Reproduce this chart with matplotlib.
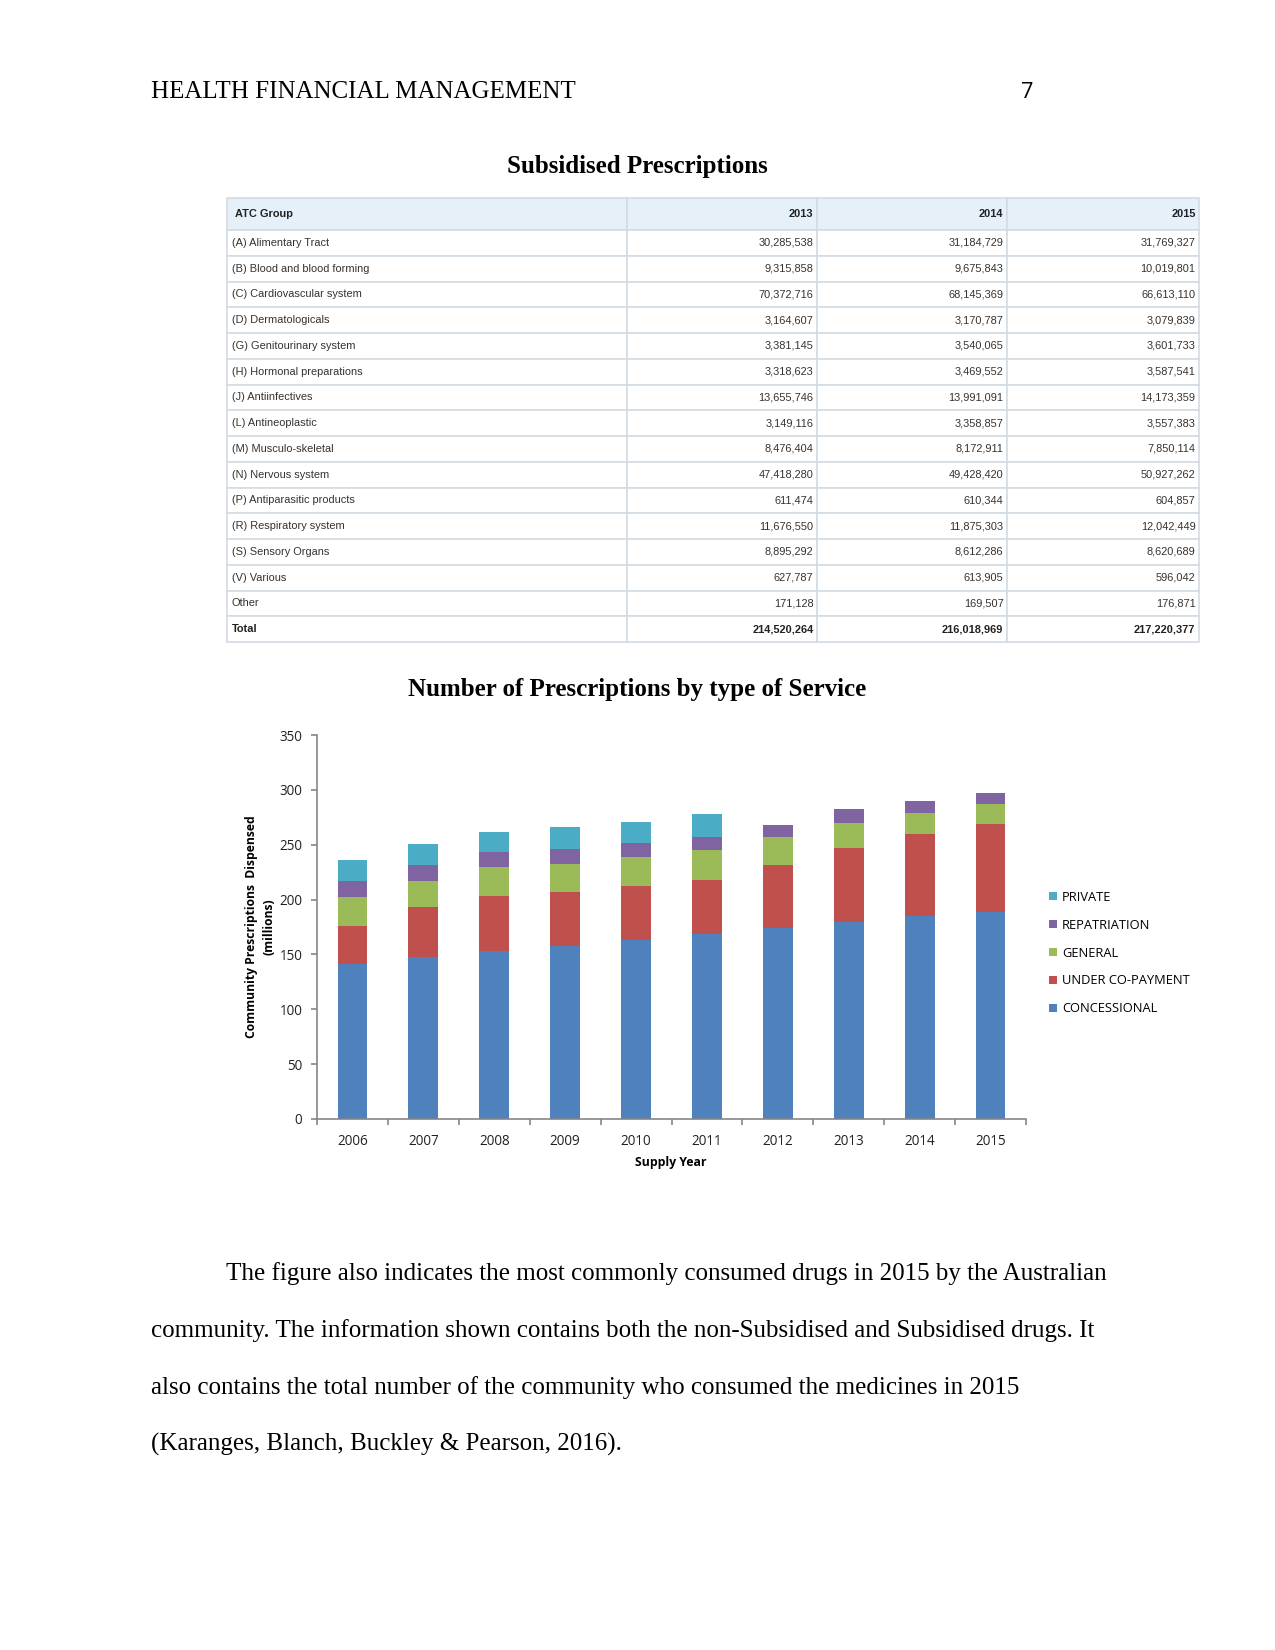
import matplotlib
matplotlib.use("Agg")
import matplotlib.pyplot as plt
import numpy as np
from matplotlib.patches import Patch

# page is letter size at 150 dpi -> 1275 x 1650
W, H = 1275, 1650

# table data
atc_groups = ["(A) Alimentary Tract", "(B) Blood and blood forming", "(C) Cardiovascular system",
              "(D) Dermatologicals", "(G) Genitourinary system", "(H) Hormonal preparations",
              "(J) Antiinfectives", "(L) Antineoplastic", "(M) Musculo-skeletal",
              "(N) Nervous system", "(P) Antiparasitic products", "(R) Respiratory system",
              "(S) Sensory Organs", "(V) Various", "Other", "Total"]
table_years = ["2013", "2014", "2015"]
rx_2013 = [30285538, 9315858, 70372716, 3164607, 3381145, 3318623, 13655746, 3149116,
           8476404, 47418280, 611474, 11676550, 8895292, 627787, 171128, 214520264]
rx_2014 = [31184729, 9675843, 68145369, 3170787, 3540065, 3469552, 13991091, 3358857,
           8172911, 49428420, 610344, 11875303, 8612286, 613905, 169507, 216018969]
rx_2015 = [31769327, 10019801, 66613110, 3079839, 3601733, 3587541, 14173359, 3557383,
           7850114, 50927262, 604857, 12042449, 8620689, 596042, 176871, 217220377]

# chart data (millions)
supply_years = ["2006", "2007", "2008", "2009", "2010", "2011", "2012", "2013", "2014", "2015"]
concessional = [141.3, 147.7, 152.8, 158.0, 163.5, 168.9, 174.1, 179.3, 185.4, 189.0]
under_copay = [34.6, 45.6, 50.8, 49.2, 48.9, 49.3, 57.4, 67.4, 74.4, 79.9]
general = [26.5, 24.0, 26.1, 25.2, 26.1, 27.3, 25.3, 23.1, 19.1, 18.2]
repatriation = [14.9, 14.2, 13.4, 14.0, 13.1, 11.9, 10.9, 12.5, 11.3, 10.1]
private = [19.1, 19.2, 18.5, 19.5, 19.1, 20.6, 0, 0, 0, 0]

series_names = ["CONCESSIONAL", "UNDER CO-PAYMENT", "GENERAL", "REPATRIATION", "PRIVATE"]
series_colors = ["#4F81BD", "#C0504D", "#9BBB59", "#8064A2", "#4BACC6"]

body_lines = [
    "The figure also indicates the most commonly consumed drugs in 2015 by the Australian",
    "community. The information shown contains both the non-Subsidised and Subsidised drugs. It",
    "also contains the total number of the community who consumed the medicines in 2015",
    "(Karanges, Blanch, Buckley & Pearson, 2016).",
]


def fx(x):
    return x / W


def fy(y):
    return 1 - y / H


fig = plt.figure(figsize=(8.5, 11), dpi=150)
serif = "Liberation Serif"

# header
fig.text(fx(151), fy(98), "HEALTH FINANCIAL MANAGEMENT", family=serif, fontsize=12, va="baseline")
fig.text(fx(1034), fy(98), "7", family="Open Sans", fontsize=10.5, va="baseline", ha="right")

fig.text(fx(637), fy(173), "Subsidised Prescriptions", family=serif, fontsize=12,
         weight="bold", ha="center", va="baseline")

# ---- table ----
tx0, tx1, ty0, ty1 = 227, 1199, 198, 642
tax = fig.add_axes([fx(tx0), fy(ty1), fx(tx1 - tx0), (ty1 - ty0) / H])
tax.axis("off")

cell_text = []
for i, g in enumerate(atc_groups):
    cell_text.append([g, f"{rx_2013[i]:,}", f"{rx_2014[i]:,}", f"{rx_2015[i]:,}"])

col_px = [400, 190, 190, 192]
col_w = [c / sum(col_px) for c in col_px]
tbl = tax.table(cellText=cell_text, colLabels=["ATC Group"] + table_years,
                colWidths=col_w, bbox=[0, 0, 1, 1])
tbl.auto_set_font_size(False)
n_rows = len(atc_groups)
for (r, c), cell in tbl.get_celld().items():
    cell.set_edgecolor("#D3DBE4")
    cell.set_linewidth(0.8)
    cell.set_height(32 if r == 0 else 25.75)
    if c == 0:
        cell.PAD = (8 if r == 0 else 5) / col_px[c]
    else:
        cell.PAD = 3.5 / col_px[c]
    txt = cell.get_text()
    txt.set_fontfamily("Liberation Sans")
    txt.set_fontsize(5.3)
    txt.set_color("#333333")
    cell._loc = "left" if c == 0 else "right"
    txt.set_ha("left" if c == 0 else "right")
    if r == 0:
        cell.set_facecolor("#E6F0F9")
        txt.set_weight("bold")
        txt.set_color("#222222")
    if r == n_rows:
        txt.set_weight("bold")
        txt.set_color("#222222")

# ---- chart ----
fig.text(fx(637), fy(696), "Number of Prescriptions by type of Service", family=serif,
         fontsize=12, weight="bold", ha="center", va="baseline")

ax0, ax1, ay0, ay1 = 317, 1026, 735, 1119
ax = fig.add_axes([fx(ax0), fy(ay1), fx(ax1 - ax0), (ay1 - ay0) / H])
x = np.arange(len(supply_years))
bottom = np.zeros(len(supply_years))
handles = []
for name, vals, col in zip(series_names, [concessional, under_copay, general, repatriation, private],
                           series_colors):
    ax.bar(x, vals, width=0.42, bottom=bottom, color=col, linewidth=0)
    bottom += np.array(vals)
    handles.append(Patch(facecolor=col, label=name))

ax.set_xlim(-0.5, len(supply_years) - 0.5)
ax.set_ylim(0, 350)
ax.set_yticks(np.arange(0, 351, 50))
ax.set_xticks(x)
ax.set_xticklabels(supply_years)
ax.set_xticks(np.arange(-0.5, len(supply_years)), minor=True)
for s in ["top", "right"]:
    ax.spines[s].set_visible(False)
for s in ["left", "bottom"]:
    ax.spines[s].set_color("#868686")
    ax.spines[s].set_linewidth(0.8)
sans = "Open Sans"
ax.tick_params(axis="x", which="major", length=0, pad=7, labelsize=6.5, labelcolor="#222222")
ax.tick_params(axis="x", which="minor", length=3, width=0.8, color="#868686")
ax.tick_params(axis="y", length=3, width=0.8, color="#868686", pad=4, labelsize=6.5,
               labelcolor="#222222")
for lab in ax.get_xticklabels() + ax.get_yticklabels():
    lab.set_fontfamily(sans)

fig.text(fx(252), fy(927), "Community Prescriptions  Dispensed", family=sans, fontsize=5.8,
         weight="bold", rotation=90, ha="center", va="center")
fig.text(fx(269), fy(927), "(millions)", family=sans, fontsize=5.8,
         weight="bold", rotation=90, ha="center", va="center")
fig.text(fx(671), fy(1166), "Supply Year", family=sans, fontsize=5.9, weight="bold",
         ha="center", va="baseline")

fig.legend(handles=handles[::-1], loc="center left", bbox_to_anchor=(fx(1049), fy(953)),
           frameon=False, handlelength=0.6, handleheight=0.6, handletextpad=0.4,
           labelspacing=1.15, borderpad=0, borderaxespad=0,
           prop={"family": sans, "size": 6.2})

# body text, double spaced
for i, line in enumerate(body_lines):
    fig.text(fx(226 if i == 0 else 151), fy(1280 + 57 * i), line, family=serif, fontsize=12,
             va="baseline")

fig.savefig("out.png", dpi=150, facecolor="white")
